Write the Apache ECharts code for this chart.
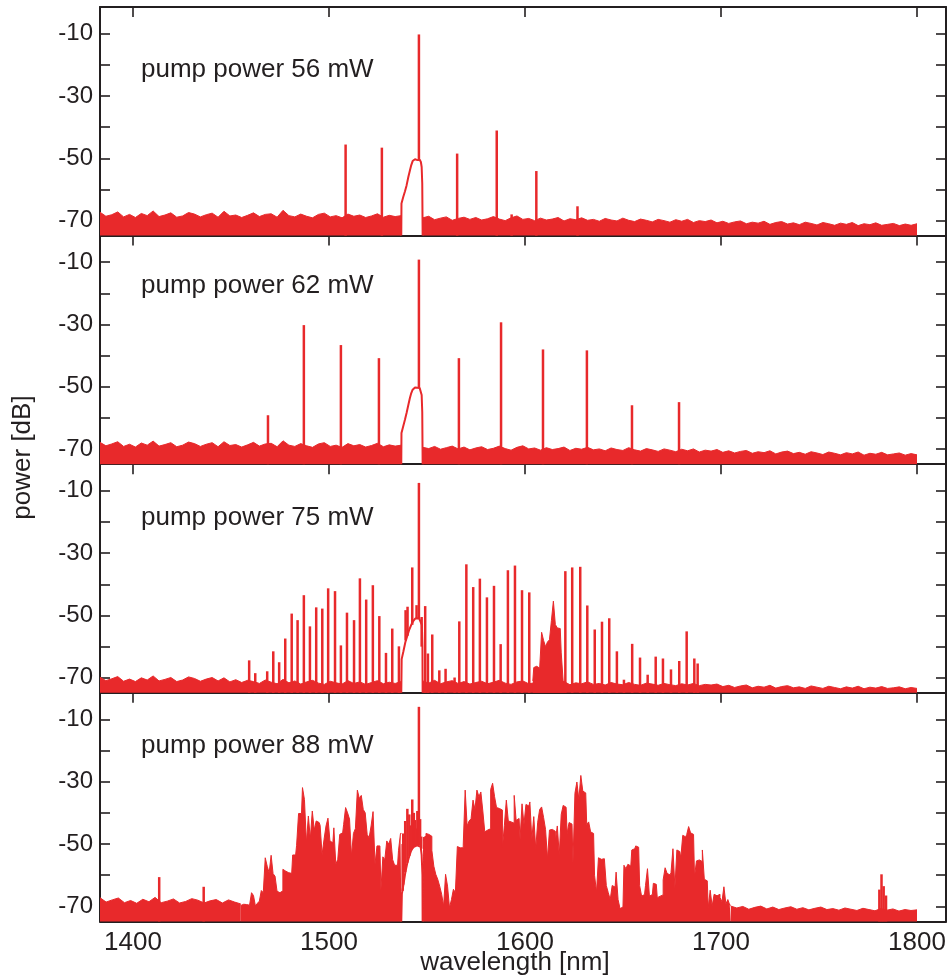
<!DOCTYPE html>
<html>
<head>
<meta charset="utf-8">
<script src="https://cdn.jsdelivr.net/npm/echarts@6/dist/echarts.min.js"></script>
<style>
  html, body { margin: 0; padding: 0; background: #fff; }
  #chart { width: 951px; height: 980px; }
</style>
</head>
<body>
<div id="chart"></div>
<script>
// axis ranges and ticks
const X_MIN = 1383.2, X_MAX = 1814.8;
const Y_MIN = -74.8, Y_MAX = -1.5;
const xTicks = [1400, 1500, 1600, 1700, 1800];
const yLabelTicks = [-70, -50, -30, -10];
const yTicks = [-70, -60, -50, -40, -30, -20, -10];
const panelLabels = ['pump power 56 mW', 'pump power 62 mW', 'pump power 75 mW', 'pump power 88 mW'];

// noise floor traces: [start nm, end nm] + dB values (evenly spaced)
const floorLeftRange = [1383.2, 1536.8];
const floorRightRange = [1547.9, 1800];

const floor1Left = [-67.3,-68.6,-68.1,-67.2,-68.8,-68.0,-69.0,-67.7,-68.4,-66.9,
  -68.7,-68.2,-67.5,-68.9,-68.5,-67.4,-67.9,-68.8,-68.1,-67.6,
  -68.9,-67.0,-68.5,-68.2,-69.0,-68.3,-67.5,-68.7,-68.0,-67.8,
  -68.9,-66.7,-68.4,-68.8,-67.9,-68.6,-69.1,-68.0,-67.6,-68.8,
  -68.4,-69.1,-67.9,-68.6,-68.2,-69.0,-68.5,-67.8,-68.9,-68.3,-68.7,-68.4];
const floor1Right = [-69.1,-68.6,-69.7,-69.2,-68.8,-69.9,-69.3,-68.9,-69.6,-69.0,
  -69.8,-69.4,-68.7,-69.5,-70.0,-69.1,-68.5,-69.6,-69.3,-70.0,
  -69.2,-69.8,-69.5,-69.0,-70.1,-69.4,-69.7,-69.1,-69.9,-69.6,
  -70.2,-69.3,-69.8,-70.1,-69.2,-69.9,-70.3,-69.5,-69.9,-70.4,
  -69.6,-70.0,-70.5,-69.7,-70.2,-69.6,-70.6,-70.0,-70.3,-69.8,
  -70.7,-70.2,-70.9,-70.4,-70.1,-71.0,-70.5,-70.8,-70.2,-71.2,
  -70.6,-70.3,-71.1,-70.7,-71.3,-70.5,-70.9,-71.4,-70.6,-71.0,
  -71.5,-70.8,-71.2,-70.6,-71.6,-71.0,-71.3,-70.7,-71.5,-71.2,
  -70.9,-71.6,-71.1,-71.5,-71.0];

const floor2Left = [-67.8,-68.9,-68.3,-67.6,-69.1,-68.4,-69.3,-68.0,-68.7,-67.4,
  -69.0,-68.5,-67.9,-69.2,-68.7,-67.7,-68.2,-69.1,-68.4,-67.9,
  -69.2,-67.6,-68.8,-68.5,-69.3,-68.6,-67.8,-69.0,-68.3,-68.1,
  -69.2,-67.3,-68.7,-69.1,-68.2,-68.9,-69.4,-68.3,-67.9,-69.1,
  -68.7,-69.4,-68.2,-68.9,-68.5,-69.3,-68.8,-68.1,-69.2,-68.6,-69.0,-68.7];
const floor2Right = [-69.4,-69.8,-69.1,-70.0,-69.5,-69.0,-69.9,-69.3,-70.2,-69.6,
  -69.2,-70.1,-69.7,-69.0,-69.8,-70.3,-69.4,-68.9,-69.9,-69.6,
  -70.3,-69.5,-70.1,-69.8,-69.3,-70.4,-69.7,-70.0,-69.4,-70.2,
  -69.9,-70.5,-69.6,-70.1,-70.4,-69.5,-70.2,-70.6,-69.8,-70.2,
  -70.7,-69.9,-70.3,-70.8,-70.0,-70.5,-69.9,-70.9,-70.3,-70.6,
  -70.1,-71.0,-70.5,-71.2,-70.7,-70.4,-71.3,-70.8,-71.1,-70.5,
  -71.5,-70.9,-70.6,-71.4,-71.0,-71.6,-70.8,-71.2,-71.7,-70.9,
  -71.3,-71.8,-71.1,-71.5,-70.9,-71.9,-71.3,-71.6,-71.0,-71.8,
  -71.5,-71.2,-71.9,-71.4,-71.8];

const floor3Left = [-69.8,-70.9,-70.3,-69.6,-71.1,-70.4,-71.2,-70.0,-70.7,-69.4,
  -71.0,-70.5,-69.9,-71.2,-70.7,-69.7,-70.2,-71.1,-70.4,-69.9,
  -71.0,-70.0,-71.3,-70.6,-71.5,-70.8,-71.2,-71.8,-70.7,-71.4,
  -71.9,-70.5,-71.6,-71.0,-72.0,-71.3,-70.8,-71.7,-72.1,-71.1,
  -71.6,-72.0,-70.9,-71.8,-71.3,-72.1,-71.5,-70.9,-71.9,-71.4,-71.8,-71.2];
const floor3Right = [-71.0,-71.7,-70.8,-71.9,-71.3,-70.9,-71.8,-71.2,-72.0,-71.5,
  -71.1,-71.9,-71.4,-70.8,-71.7,-72.1,-71.3,-71.0,-71.9,-71.6,
  -72.2,-71.4,-71.9,-71.7,-71.2,-72.2,-71.6,-71.9,-71.3,-72.1,
  -71.8,-72.3,-71.5,-72.0,-72.2,-71.5,-72.1,-72.4,-71.7,-72.0,
  -72.4,-71.8,-72.2,-72.5,-71.9,-72.3,-71.8,-72.5,-72.1,-72.3,
  -72.0,-72.8,-72.4,-73.1,-72.6,-72.3,-73.2,-72.7,-73.0,-72.4,
  -73.3,-72.8,-72.5,-73.2,-72.9,-73.4,-72.6,-73.0,-73.4,-72.7,
  -73.1,-73.5,-72.9,-73.3,-72.7,-73.5,-73.0,-73.3,-72.8,-73.4,
  -73.2,-72.9,-73.5,-73.1,-73.4];
const band3Range = [1604, 1620];
const band3 = [-71.0,-66.7,-66.3,-66.9,-66.6,-55.4,-58.0,-60.0,-58.5,-57.8,-51.6,-45.4,-52.9,-54.0,-54.2,-62.0,-71.2];

const floor4LeftRange = [1383.2, 1455];
const floor4Left = [-67.2,-68.6,-67.9,-67.3,-68.8,-68.1,-69.0,-67.7,-68.5,-67.1,
  -68.8,-68.3,-67.6,-68.9,-68.4,-67.5,-68.0,-68.9,-68.2,-67.8,-68.9,-67.9,-68.6,-69.2];
const floor4RightRange = [1705, 1800];
const floor4Right = [-69.9,-70.5,-70.0,-70.9,-70.3,-69.9,-70.8,-70.2,-71.0,-70.5,
  -70.1,-70.9,-70.4,-71.1,-70.6,-70.2,-71.0,-70.7,-71.2,-70.5,
  -70.9,-71.3,-70.6,-71.0,-71.4,-70.7,-71.2,-70.8,-71.5,-71.0,-71.3,-71.1];
// broadband comb of the 88 mW spectrum, 1 nm grid
const band4LeftRange = [1455, 1537];
const band4Left = [-69.7,-69.3,-69.8,-69.4,-69.6,-69.9,-65.6,-66.5,-69.9,-69.0,
  -68.3,-64.9,-65.6,-54.4,-57.1,-59.2,-53.6,-59.5,-60.3,-65.1,
  -65.6,-65.0,-58.1,-58.7,-59.2,-59.7,-59.4,-53.5,-53.5,-50.4,
  -40.2,-40.2,-31.9,-35.7,-49.6,-41.0,-48.3,-39.4,-45.5,-42.6,
  -43.1,-44.0,-53.4,-48.5,-44.2,-41.7,-49.0,-49.6,-44.8,-56.5,
  -54.9,-46.9,-46.4,-43.7,-38.3,-40.0,-42.0,-53.8,-46.6,-45.0,
  -32.7,-35.4,-34.4,-38.9,-40.0,-46.9,-48.0,-44.2,-39.6,-56.5,
  -50.6,-50.6,-64.8,-54.1,-55.0,-49.0,-50.0,-48.2,-55.0,-56.8,
  -56.8,-52.0,-46.6];
const band4RightRange = [1548, 1705];
const band4Right = [-48.0,-47.5,-46.6,-46.9,-47.5,-52.0,-57.1,-59.7,-61.3,-63.5,
  -66.1,-69.9,-59.7,-63.5,-70.4,-67.8,-64.5,-65.6,-50.8,-51.2,
  -51.2,-50.5,-32.7,-44.2,-42.6,-41.9,-35.9,-38.9,-32.7,-34.8,
  -33.3,-39.4,-46.1,-45.5,-45.1,-32.5,-30.5,-34.8,-38.3,-38.6,
  -39.1,-51.2,-44.0,-35.9,-42.6,-42.9,-43.3,-34.4,-42.4,-41.8,
  -48.5,-37.1,-43.7,-37.3,-37.8,-36.5,-48.5,-41.2,-51.5,-43.0,
  -38.9,-38.1,-41.5,-45.3,-54.7,-45.5,-45.3,-45.9,-49.0,-44.2,
  -53.6,-40.5,-37.6,-38.2,-46.6,-43.1,-43.6,-56.0,-33.7,-30.1,
  -35.7,-28.0,-33.0,-33.6,-43.7,-42.9,-46.1,-46.6,-60.0,-65.4,
  -54.4,-54.9,-54.7,-55.2,-63.3,-65.6,-67.8,-63.3,-63.8,-59.0,
  -67.8,-70.7,-70.2,-56.8,-57.9,-56.5,-57.0,-51.9,-51.5,-50.6,
  -51.0,-63.3,-66.7,-66.2,-63.3,-57.9,-66.7,-66.2,-62.6,-62.9,
  -67.2,-66.7,-66.3,-61.5,-57.6,-59.4,-59.9,-59.2,-51.5,-64.0,
  -51.9,-52.4,-54.5,-47.2,-47.7,-47.0,-44.4,-46.4,-46.9,-60.5,
  -55.4,-55.1,-55.6,-51.9,-61.3,-61.8,-70.4,-64.8,-69.9,-66.1,
  -66.6,-66.1,-67.1,-68.5,-63.7,-69.2,-67.8,-69.6];

// pump passband hump [nm, dB]
const hump1 = [[1536.9,-74.8],[1537.0,-64.5],[1537.9,-62.4],[1538.8,-60.6],[1539.6,-58.7],[1540.5,-56.0],
  [1541.3,-53.9],[1542.0,-52.2],[1542.7,-50.9],[1543.4,-50.5],[1543.9,-50.3],[1544.5,-50.9],[1545.1,-50.6],
  [1545.7,-51.0],[1546.3,-50.5],[1546.9,-51.2],[1547.3,-52.8],[1547.6,-58.0],[1547.8,-74.8]];
const hump2 = [[1536.9,-74.8],[1537.0,-64.8],[1537.9,-62.6],[1538.8,-60.5],[1539.6,-58.4],[1540.5,-55.8],
  [1541.3,-53.6],[1542.0,-52.0],[1542.7,-50.9],[1543.4,-50.4],[1543.9,-50.2],[1544.5,-50.7],[1545.1,-50.3],
  [1545.7,-50.8],[1546.3,-50.4],[1546.9,-51.0],[1547.3,-52.6],[1547.6,-58.0],[1547.8,-74.8]];
const hump3 = [[1536.9,-74.8],[1537.1,-64.0],[1538.0,-61.5],[1539.0,-58.5],[1540.0,-56.5],[1541.0,-54.5],
  [1542.0,-53.0],[1543.0,-51.8],[1544.0,-51.0],[1545.0,-50.8],[1546.0,-50.9],[1546.8,-51.5],[1547.4,-53.0],
  [1547.7,-60.0],[1547.8,-74.8]];
const hump4 = [[1536.9,-74.8],[1537.2,-66.0],[1538.0,-63.0],[1539.0,-59.0],[1540.0,-56.0],[1541.0,-53.8],
  [1542.0,-52.0],[1543.0,-51.0],[1544.0,-50.6],[1545.0,-50.4],[1546.0,-50.4],[1546.8,-50.9],[1547.3,-53.5],
  [1547.7,-60.0],[1547.8,-74.8]];

// spectral lines [nm, peak dB, base dB (default: bottom)]
const lines1 = [[1508.5,-45.6],[1527.0,-46.6],[1565.4,-48.5],[1585.6,-41.1],[1593.2,-68.0],
  [1605.8,-54.1],[1626.8,-65.4],[1545.9,-10.3,-50.8]];
const lines2 = [[1468.9,-59.1],[1487.2,-30.2],[1506.1,-36.6],[1525.5,-40.8],[1566.3,-40.8],
  [1587.8,-29.3],[1609.2,-38.0],[1631.6,-38.3],[1654.6,-55.9],[1678.6,-54.9],[1545.9,-9.2,-50.4]];
const lines3 = [[1459.3,-64.4],[1462.4,-68.5],[1468.5,-67.9],[1471.6,-61.5],[1474.6,-65.0],[1477.7,-57.4],
  [1481.0,-49.4],[1484.0,-51.5],[1487.2,-43.5],[1490.3,-53.5],[1493.5,-47.4],[1496.6,-47.8],[1499.6,-41.3],
  [1503.1,-42.2],[1506.1,-59.6],[1509.2,-49.1],[1512.8,-51.5],[1515.8,-38.1],[1519.0,-44.9],[1522.4,-40.3],
  [1525.7,-50.2],[1529.1,-62.0],[1532.3,-54.2],[1535.7,-59.9],
  [1539.1,-48.3,-58.0],[1540.1,-47.2,-56.5],[1542.5,-34.6,-53.0],[1544.7,-46.7,-50.9],[1545.9,-7.5,-50.9],
  [1547.3,-50.5,-60.0],
  [1549.1,-47.0],[1550.5,-62.2],[1552.7,-56.1],[1556.3,-67.6],[1559.5,-67.1],[1564.1,-69.9],[1566.5,-51.9],
  [1570.1,-33.6],[1573.6,-40.9],[1577.0,-38.2],[1580.6,-44.2],[1584.2,-40.5],[1587.6,-59.2],[1591.3,-35.5],
  [1594.9,-34.0],[1598.5,-41.9],[1602.2,-42.6],[1620.6,-35.8],[1624.1,-34.6],[1628.2,-34.4],[1631.8,-46.8],
  [1635.6,-54.5],[1639.3,-52.0],[1643.0,-50.9],[1646.9,-61.5],[1650.5,-70.6],[1654.7,-59.1],[1658.7,-63.5],
  [1662.6,-69.0],[1666.7,-63.2],[1670.4,-63.8],[1674.5,-67.3],[1678.7,-64.6],[1682.5,-55.1],[1686.4,-63.8],
  [1688.1,-65.4]];
const lines4 = [[1413.4,-60.6],[1436.1,-63.7],[1780.8,-64.6],[1781.9,-59.7],[1783.0,-63.5],[1784.2,-66.5],
  [1537.6,-50.0,-65.0],[1537.9,-46.6,-63.0],[1538.9,-42.6,-59.0],[1540.0,-38.7,-56.0],[1541.0,-40.5,-53.8],
  [1542.0,-44.0,-52.0],[1542.5,-35.7,-51.5],[1543.3,-40.0,-51.0],[1543.9,-42.3,-50.6],[1544.5,-45.0,-50.5],
  [1545.1,-39.4,-50.4],[1545.9,-6.0,-50.4],[1546.5,-42.0,-50.5],[1547.1,-47.6,-51.5]];

const RED = '#e8292b';
const FRAME = '#231f20';
const FONT = '"Liberation Sans", Arial, Helvetica, sans-serif';
const GRID_TOPS = [7, 235.6, 464.2, 692.8];
const GRID_H = 228.6;

function trace(range, vals) {
  const a = range[0], b = range[1];
  return vals.map((v, i) => [a + (b - a) * i / (vals.length - 1), v]);
}

const panels = [
  { floors: [[floorLeftRange, floor1Left], [floorRightRange, floor1Right]], bands: [], hump: hump1, lines: lines1 },
  { floors: [[floorLeftRange, floor2Left], [floorRightRange, floor2Right]], bands: [], hump: hump2, lines: lines2 },
  { floors: [[floorLeftRange, floor3Left], [floorRightRange, floor3Right]], bands: [[band3Range, band3]], hump: hump3, lines: lines3 },
  { floors: [[floor4LeftRange, floor4Left], [floor4RightRange, floor4Right]],
    bands: [[band4LeftRange, band4Left], [band4RightRange, band4Right]], hump: hump4, lines: lines4 }
];

const grids = [], xAxes = [], yAxes = [], series = [];
const frameLine = { show: true, onZero: false, lineStyle: { color: FRAME, width: 2 } };
const tickStyle = { color: FRAME, width: 1.6 };

panels.forEach((p, i) => {
  grids.push({ left: 100, right: 5, top: GRID_TOPS[i], height: GRID_H });
  xAxes.push({
    gridIndex: i, type: 'value', min: X_MIN, max: X_MAX, position: 'bottom',
    axisLine: frameLine, axisTick: { show: false }, splitLine: { show: false },
    axisLabel: {
      show: i === 3, customValues: xTicks, formatter: v => String(v),
      color: FRAME, fontSize: 26, fontFamily: FONT, margin: 8
    }
  });
  xAxes.push({
    gridIndex: i, type: 'value', min: X_MIN, max: X_MAX, position: 'top',
    axisLine: frameLine, splitLine: { show: false }, axisLabel: { show: false },
    axisTick: { show: true, inside: true, length: 10, customValues: xTicks, lineStyle: tickStyle }
  });
  yAxes.push({
    gridIndex: i, type: 'value', min: Y_MIN, max: Y_MAX, position: 'left',
    axisLine: frameLine, splitLine: { show: false },
    axisTick: { show: true, inside: true, length: 10, customValues: yTicks, lineStyle: tickStyle },
    axisLabel: { customValues: yLabelTicks, color: FRAME, fontSize: 24, fontFamily: FONT, margin: 7 }
  });
  yAxes.push({
    gridIndex: i, type: 'value', min: Y_MIN, max: Y_MAX, position: 'right',
    axisLine: frameLine, splitLine: { show: false }, axisLabel: { show: false },
    axisTick: { show: true, inside: true, length: 10, customValues: yTicks, lineStyle: tickStyle }
  });

  const xi = i * 2, yi = i * 2;
  p.floors.forEach(f => series.push({
    type: 'line', xAxisIndex: xi, yAxisIndex: yi, data: trace(f[0], f[1]),
    symbol: 'none', lineStyle: { color: RED, width: 1 },
    areaStyle: { color: RED, opacity: 1, origin: 'start' }, silent: true
  }));
  p.bands.forEach(b => series.push({
    type: 'line', step: 'middle', xAxisIndex: xi, yAxisIndex: yi, data: trace(b[0], b[1]),
    symbol: 'none', lineStyle: { color: RED, width: 1 },
    areaStyle: { color: RED, opacity: 1, origin: 'start' }, silent: true
  }));
  series.push({
    type: 'line', xAxisIndex: xi, yAxisIndex: yi, data: p.hump,
    symbol: 'none', lineStyle: { color: RED, width: 2 }, silent: true
  });
  series.push({
    type: 'custom', xAxisIndex: xi, yAxisIndex: yi, silent: true,
    data: p.lines.map(d => [d[0], d[1], d.length > 2 ? d[2] : Y_MIN]),
    encode: { x: 0, y: 1 },
    renderItem: (params, api) => {
      const top = api.coord([api.value(0), api.value(1)]);
      const base = api.coord([api.value(0), api.value(2)]);
      return {
        type: 'line',
        shape: { x1: top[0], y1: top[1], x2: base[0], y2: base[1] },
        style: { stroke: RED, lineWidth: 2.5 }
      };
    }
  });
});

const labelY = [70, 285.5, 517.5, 745.5];
const graphics = panelLabels.map((t, i) => ({
  type: 'text', x: 141, y: labelY[i], silent: true,
  style: { text: t, fill: FRAME, font: '26px ' + FONT, textAlign: 'left', textVerticalAlign: 'middle' }
}));
graphics.push({
  type: 'text', x: 23, y: 457.5, rotation: Math.PI / 2, silent: true,
  style: { text: 'power [dB]', fill: FRAME, font: '26px ' + FONT, textAlign: 'center', textVerticalAlign: 'middle' }
});
graphics.push({
  type: 'text', x: 515, y: 963, silent: true,
  style: { text: 'wavelength [nm]', fill: FRAME, font: '26px ' + FONT, textAlign: 'center', textVerticalAlign: 'middle' }
});

const chart = echarts.init(document.getElementById('chart'));
chart.setOption({
  animation: false,
  backgroundColor: '#fff',
  grid: grids,
  xAxis: xAxes,
  yAxis: yAxes,
  series: series,
  graphic: graphics
});
</script>
</body>
</html>
